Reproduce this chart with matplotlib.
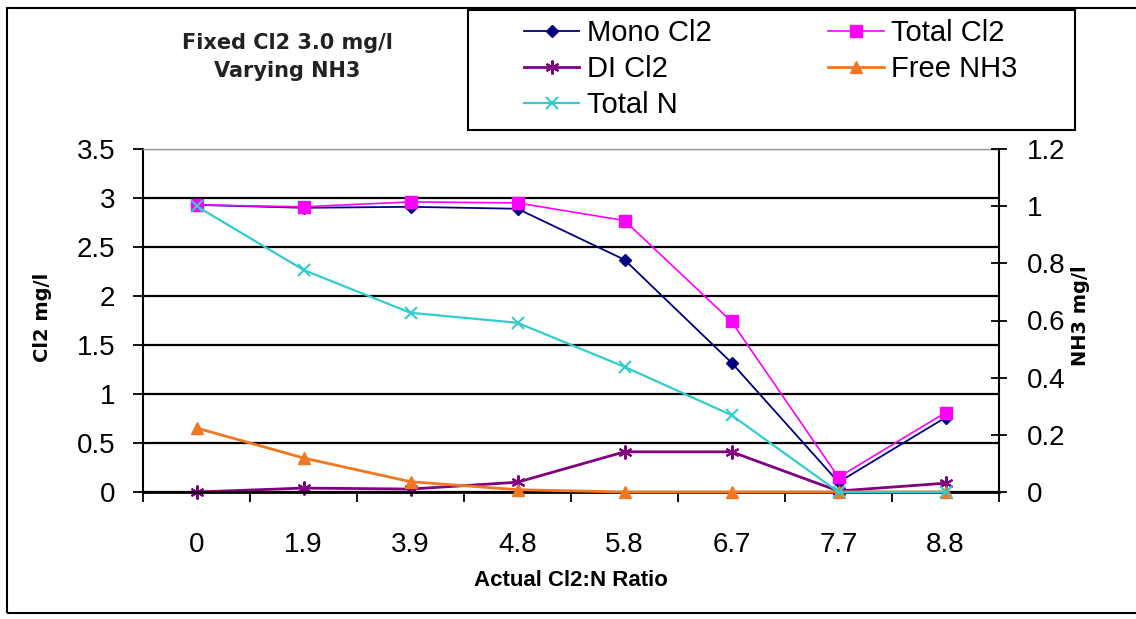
import numpy as np
import matplotlib
matplotlib.use('Agg')
import matplotlib.pyplot as plt
from matplotlib.patches import Rectangle
from matplotlib.ticker import FormatStrFormatter

plt.rcParams['font.family'] = ['Liberation Sans', 'DejaVu Sans']

# categories (Cl2:N ratio)
ratios = ['0', '1.9', '3.9', '4.8', '5.8', '6.7', '7.7', '8.8']

# left axis, Cl2 mg/l
mono_cl2 = [2.93, 2.90, 2.91, 2.89, 2.37, 1.32, 0.10, 0.76]
total_cl2 = [2.93, 2.91, 2.96, 2.95, 2.77, 1.74, 0.15, 0.81]
di_cl2 = [0.0, 0.04, 0.03, 0.10, 0.41, 0.41, 0.01, 0.09]

# right axis, NH3 mg/l
total_n = [1.00, 0.777, 0.627, 0.592, 0.438, 0.269, 0.0, 0.0]
free_nh3 = [0.224, 0.119, 0.036, 0.008, 0.0, 0.0, 0.0, 0.0]

W, H = 1136, 619
fig = plt.figure(figsize=(W / 100, H / 100), dpi=100)
ax = fig.add_axes([143 / W, 1 - 492 / H, (999 - 143) / W, (492 - 149) / H])
ax2 = ax.twinx()

x = np.arange(len(ratios))

l_mono, = ax.plot(x, mono_cl2, color='#000080', marker='D', ms=6, lw=1.3, label='Mono Cl2',
                  clip_on=False)
l_tot, = ax.plot(x, total_cl2, color='#FF00FF', marker='s', ms=9, lw=1.2, label='Total Cl2',
                 clip_on=False)
l_di, = ax.plot(x, di_cl2, color='#800080', marker=(6, 2, 0), ms=10, mew=1.5, lw=2,
                label='DI Cl2', clip_on=False)
l_free, = ax2.plot(x, free_nh3, color='#F07822', marker='^', ms=9, lw=2, label='Free NH3',
                   clip_on=False)
l_n, = ax2.plot(x, total_n, color='#33CCCC', marker='x', ms=8, mew=1.5, lw=1.6,
                label='Total N', clip_on=False)

# left axis
ax.set_ylim(0, 3.5)
ax.set_yticks(np.arange(0, 3.51, 0.5))
ax.yaxis.set_major_formatter(FormatStrFormatter('%g'))
ax.tick_params(axis='y', length=7, width=1.3, pad=13, labelsize=20)
ax.grid(axis='y', color='black', lw=1.6)
ax.get_ygridlines()[-1].set_color('#999999')
ax.get_ygridlines()[-1].set_linewidth(1)

# x axis
ax.set_xlim(-0.5, 7.5)
ax.set_xticks(x)
ax.set_xticklabels(ratios)
ax.set_xticks(np.arange(-0.5, 8, 1), minor=True)
ax.tick_params(axis='x', which='major', length=0, pad=29, labelsize=20)
ax.tick_params(axis='x', which='minor', length=7, width=1.3, direction='out')

# right axis
ax2.set_ylim(0, 1.2)
ax2.set_yticks(np.arange(0, 1.21, 0.2))
ax2.yaxis.set_major_formatter(FormatStrFormatter('%g'))
ax2.tick_params(axis='y', direction='inout', length=11.5, width=1.3, pad=14, labelsize=20)

for s in ['top', 'left', 'bottom']:
    ax2.spines[s].set_visible(False)
ax.spines['right'].set_visible(False)
ax.spines['top'].set_color('#999999')
ax.spines['top'].set_linewidth(1)
ax.spines['left'].set_linewidth(1.5)
ax.spines['bottom'].set_linewidth(2)
ax2.spines['right'].set_linewidth(1.5)

# axis titles
fig.text(43 / W, 1 - 317 / H, 'Cl2 mg/l', rotation=90, weight='bold', size=14,
         family='DejaVu Sans', ha='center', va='center')
fig.text(1081 / W, 1 - 316 / H, 'NH3 mg/l', rotation=90, weight='bold', size=14,
         family='DejaVu Sans', ha='center', va='center')
fig.text(571 / W, 1 - 581 / H, 'Actual Cl2:N Ratio', weight='bold', size=16,
         ha='center', va='center')
fig.text(287 / W, 1 - 57 / H, 'Fixed Cl2 3.0 mg/l\nVarying NH3', weight='bold', size=15,
         family='DejaVu Sans', ha='center', va='center', linespacing=1.5, color='#222222')

# outer frame and legend box
fig.add_artist(Rectangle((7 / W, 1 - 613 / H), 1.2, (613 - 8) / H, transform=fig.transFigure,
                         fill=False, edgecolor='black', lw=1.5))
fig.add_artist(Rectangle((468 / W, 1 - 130 / H), (1075 - 468) / W, 120 / H,
                         transform=fig.transFigure, facecolor='white', edgecolor='black', lw=1.5))

handles = [l_mono, l_di, l_n, l_tot, l_free]
fig.legend(handles, [h.get_label() for h in handles], ncol=2, loc='upper left',
           bbox_to_anchor=(524 / W, 1 - 19 / H), frameon=False, fontsize=21,
           handlelength=1.9, handletextpad=0.25, columnspacing=4.0,
           labelspacing=0.27, borderpad=0, borderaxespad=0)

fig.savefig('out.png', dpi=100)
